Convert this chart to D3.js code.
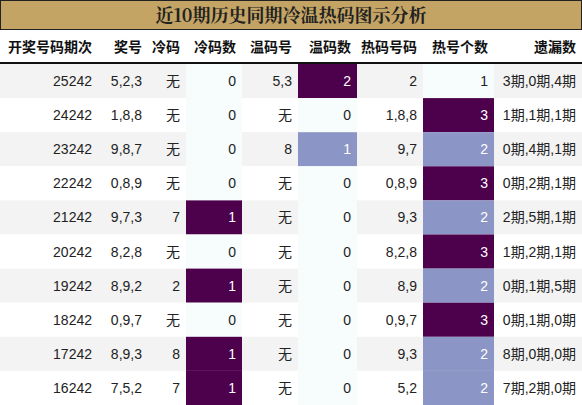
<!DOCTYPE html>
<html><head><meta charset="utf-8">
<script src="https://cdn.jsdelivr.net/npm/d3@7"></script>
<style>body{margin:0;background:#fff;}</style>
</head><body><div id="chart"></div>
<script>
var title = '近10期历史同期冷温热码图示分析';
var headers = ['开奖号码期次', '奖号', '冷码', '冷码数', '温码号', '温码数', '热码号码', '热号个数', '遗漏数'];
var periods = ['25242', '24242', '23242', '22242', '21242', '20242', '19242', '18242', '17242', '16242'];
var prizes = ['5,2,3', '1,8,8', '9,8,7', '0,8,9', '9,7,3', '8,2,8', '8,9,2', '0,9,7', '8,9,3', '7,5,2'];
var coldNums = ['无', '无', '无', '无', '7', '无', '2', '无', '8', '7'];
var coldCounts = [0, 0, 0, 0, 1, 0, 1, 0, 1, 1];
var warmNums = ['5,3', '无', '8', '无', '无', '无', '无', '无', '无', '无'];
var warmCounts = [2, 0, 1, 0, 0, 0, 0, 0, 0, 0];
var hotNums = ['2', '1,8,8', '9,7', '0,8,9', '9,3', '8,2,8', '8,9', '0,9,7', '9,3', '5,2'];
var hotCounts = [1, 3, 2, 3, 2, 3, 2, 3, 2, 2];
var misses = ['3期,0期,4期', '1期,1期,1期', '0期,4期,1期', '0期,2期,1期', '2期,5期,1期', '1期,2期,1期', '0期,1期,5期', '0期,1期,0期', '8期,0期,0期', '7期,2期,0期'];

var W = 582, H = 405, titleH = 30, headH = 34;
var colEdges = [0, 98, 148, 186, 242, 298, 357, 423, 494, 582];
var columns = [periods, prizes, coldNums, coldCounts, warmNums, warmCounts, hotNums, hotCounts, misses];
var colored = {3: true, 5: true, 7: true};

var svg = d3.select('#chart').append('svg').attr('width', W).attr('height', H)
	.style('font-family', '"Liberation Sans","Noto Sans CJK SC",sans-serif');

svg.append('rect').attr('x', 0.5).attr('y', 0.5).attr('width', W - 1).attr('height', titleH - 1)
	.attr('fill', '#c4a464').attr('stroke', '#222');
svg.append('text').attr('x', W / 2).attr('y', 22).attr('text-anchor', 'middle')
	.attr('font-size', 18).attr('font-weight', 'bold').attr('fill', '#222')
	.style('font-family', '"Noto Serif CJK SC","Noto Sans CJK SC",serif').text(title);

var y = d3.scaleBand().domain(d3.range(periods.length)).range([titleH + headH, H]);

// header
headers.forEach(function (h, i) {
	svg.append('text').attr('x', colEdges[i + 1] - 6).attr('y', titleH + 22)
		.attr('text-anchor', 'end').attr('font-size', 14).attr('font-weight', 'bold')
		.attr('fill', '#111').style('font-family', '"Noto Sans CJK SC",sans-serif').text(h);
});
svg.append('line').attr('x1', 0).attr('x2', W).attr('y1', titleH + headH - 1).attr('y2', titleH + headH - 1)
	.attr('stroke', '#111').attr('stroke-width', 2);

// stripes
svg.selectAll('rect.stripe').data(periods).enter().append('rect').attr('class', 'stripe')
	.attr('x', 0).attr('width', W).attr('y', function (d, i) { return y(i); })
	.attr('height', y.bandwidth()).attr('fill', function (d, i) { return i % 2 ? '#fff' : '#f3f3f3'; });

columns.forEach(function (vals, c) {
	var color = null;
	if (colored[c]) {
		var ext = d3.extent(vals);
		color = d3.scaleLinear().domain([ext[0], (ext[0] + ext[1]) / 2, ext[1]])
			.range(['#f7fcfd', '#8c96c6', '#4d004b']);
		svg.selectAll(null).data(vals).enter().append('rect')
			.attr('x', colEdges[c]).attr('width', colEdges[c + 1] - colEdges[c])
			.attr('y', function (d, i) { return y(i); }).attr('height', y.bandwidth())
			.attr('fill', function (d) { return color(d); });
	}
	svg.selectAll(null).data(vals).enter().append('text')
		.attr('x', colEdges[c + 1] - 6).attr('y', function (d, i) { return y(i) + y.bandwidth() / 2 + 5; })
		.attr('text-anchor', 'end').attr('font-size', 14)
		.attr('fill', function (d) {
			if (!color) return '#222';
			var e = d3.extent(vals);
			return d > e[0] ? '#fff' : '#222';
		})
		.text(function (d) { return d; });
});
</script></body></html>
